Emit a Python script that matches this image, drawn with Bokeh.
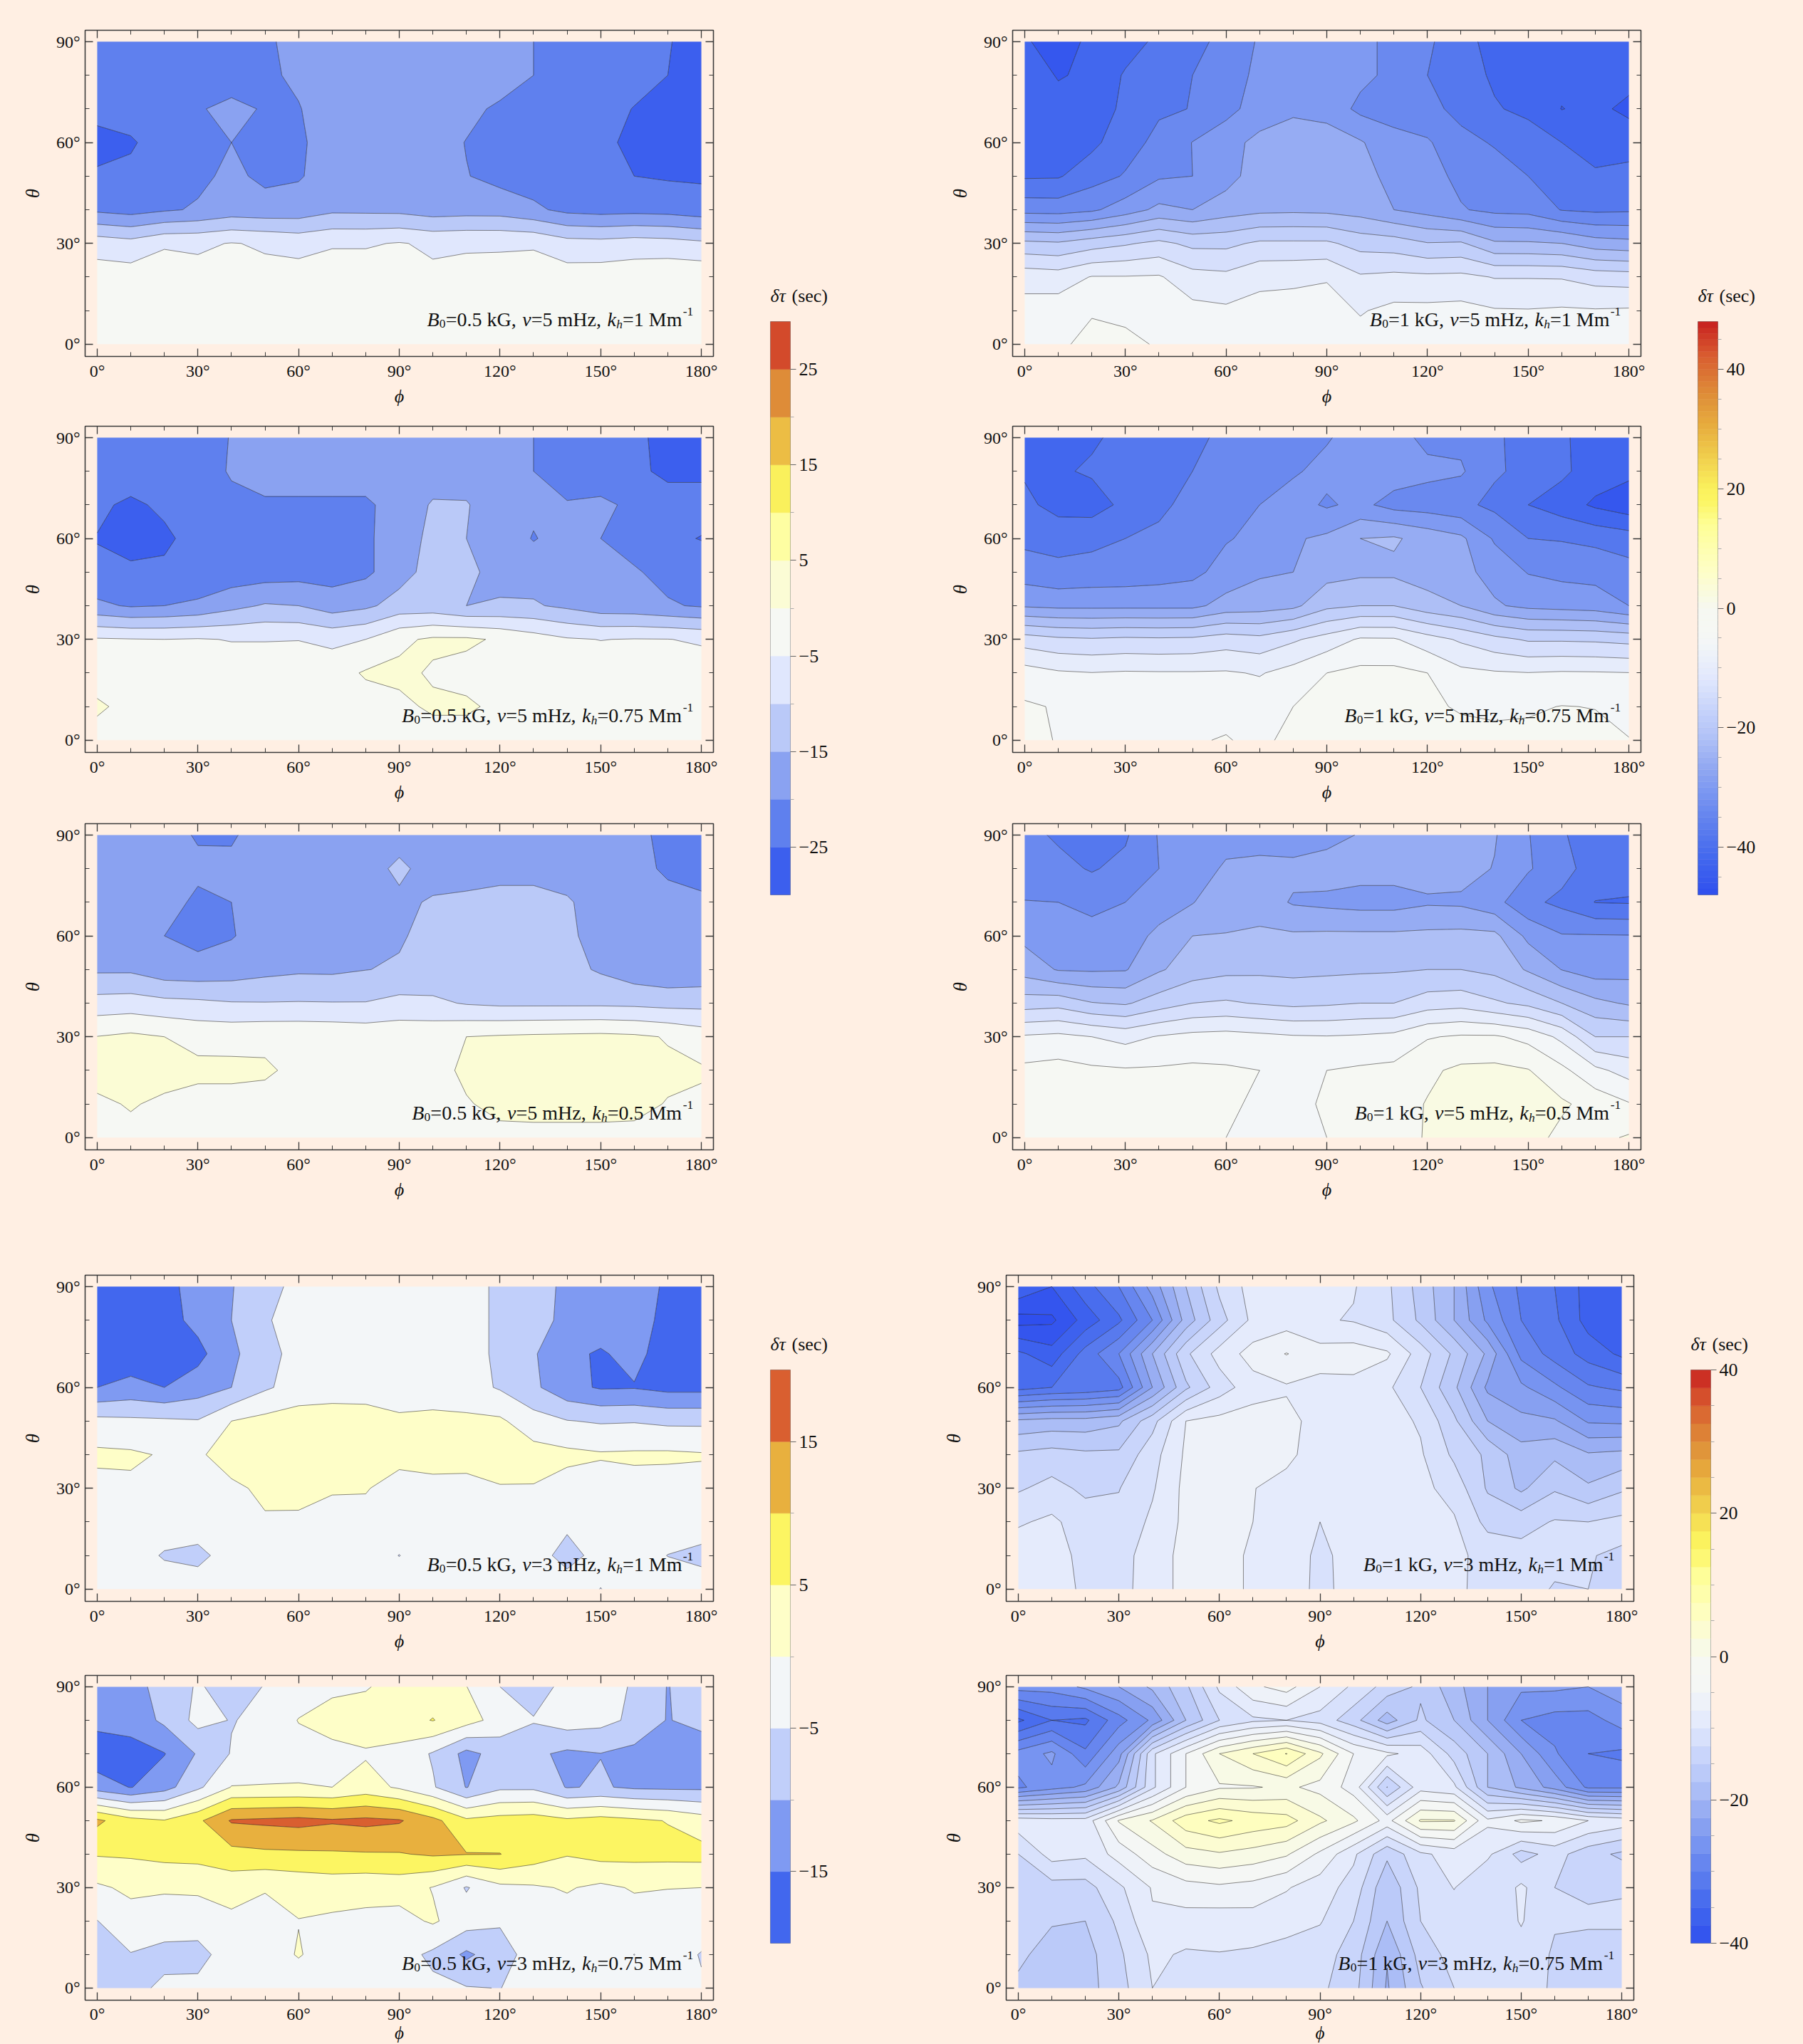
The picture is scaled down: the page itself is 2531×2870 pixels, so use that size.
import numpy as np
from bokeh.embed import file_html
from bokeh.resources import INLINE
from bokeh.plotting import figure
from bokeh.layouts import column, row
from bokeh.models import Spacer, LinearAxis, FixedTicker, Label

PHI = list(range(0, 181, 10))
THETA = list(range(0, 91, 10))
X_TICKS = [0, 30, 60, 90, 120, 150, 180]
Y_TICKS = [0, 30, 60, 90]

# rows run from theta=90 down to theta=0, 19 values for phi=0..180
A1 = [
 [-23,-23,-23,-23,-23,-21,-18,-17,-17,-17,-17,-17,-17,-20,-22,-23,-24,-24.7,-27],
 [-23,-23,-23,-23,-23,-21,-19,-18,-17,-17,-17,-17,-17,-20,-22,-23,-24,-25,-26],
 [-23,-23,-23,-20.5,-18.5,-20.5,-20.3,-17,-17,-17,-17,-18.5,-21,-22,-23,-24,-25.1,-26.5,-26.5],
 [-27,-25.5,-23,-22,-20,-21.5,-20.7,-18,-16.5,-16.5,-17.5,-20.2,-22,-23,-23.5,-24.5,-25.5,-26.5,-26.5],
 [-24.2,-24,-23.5,-21,-19,-21,-20.4,-18,-17,-17,-18,-19.8,-21.5,-22.5,-23,-24,-25,-25.5,-25.6],
 [-21,-22,-20.6,-19.5,-17.8,-18.2,-18,-16,-16.1,-16.3,-17.5,-17.1,-17.2,-19,-21.3,-21.9,-21.6,-21.9,-23],
 [-7.1,-8.2,-5.8,-5.8,-4.8,-5.5,-6.5,-5.5,-5.5,-4.7,-5.8,-5.5,-5.5,-5.6,-8,-8.3,-7.6,-8,-9],
 [-2.7,-2.7,-1.3,-3.4,-3,-3.9,-3.2,-2.4,-2.4,-3,-4.1,-3.8,-3.6,-2.6,-2.8,-2.5,-2.1,-1.3,-1.3],
 [-2,-2,-2,-2,-2,-2,-2,-2,-2,-2,-2,-2,-2,-2,-2,-2,-2,-2,-2],
 [-1.5,-1.5,-1.5,-1.5,-1.5,-1.5,-1.5,-1.5,-1.5,-1.5,-1.5,-1.5,-1.5,-1.5,-1.5,-1.5,-1.5,-1.5,-1.5],
]
A2 = [
 [-22,-22,-22,-22,-19.8,-17,-17,-17,-17,-17,-17,-17,-17,-20,-22,-23,-24.3,-26,-26],
 [-22,-22,-22,-22,-19.6,-17,-17,-17,-17,-17,-17,-17,-17,-20,-22,-23,-24.5,-25.5,-26],
 [-24,-26,-24,-22,-21,-21,-21,-21,-21,-17.5,-14.6,-14.7,-17.5,-19,-19.7,-19,-21,-24,-23],
 [-25.2,-27,-26,-23,-22,-22,-22,-22,-21,-17,-14,-15,-17,-20.3,-18,-20,-22,-24,-25.2],
 [-24,-24,-24,-24,-23,-22.5,-22,-22,-21,-17,-13,-14,-16.5,-17,-17,-18,-19.5,-21.5,-22],
 [-19,-20.5,-20,-19,-16.5,-14.5,-15,-17.5,-16,-13,-13,-15,-14.5,-14.5,-16,-18,-18.3,-19.5,-20.5],
 [-4.5,-4.8,-5,-4.7,-5.2,-5.2,-5.1,-6.2,-5,-1,0.8,0.8,-0.6,-2.7,-4.5,-5.1,-4.8,-4.9,-5.6],
 [-2.5,-2.5,-2.5,-2.5,-2.5,-2.5,-2.5,-2,0.5,1,-0.5,-1.5,-2,-2.5,-2.5,-2.5,-2.5,-2.5,-2.5],
 [0.8,-1.5,-2,-2,-2,-2,-2,-2,-2,-1,0.7,0.7,-1,-2,-2,-2,-2,-2,-2],
 [-2,-2,-2,-2,-2,-2,-2,-2,-2,-2,-2,-2,-2,-2,-2,-2,-2,-2,-2],
]
A3 = [
 [-18,-18,-18,-20.5,-20.5,-18,-18,-17,-17,-17,-17,-17,-17,-17,-17,-17,-19,-21,-21.5],
 [-18,-18,-18,-18.9,-19,-18,-18,-17,-17,-14,-17,-17,-17,-17,-17,-17,-18,-21,-22],
 [-18,-18,-18,-21,-20,-18,-17,-17,-17,-16,-14.5,-14,-13,-13,-14.5,-17,-17,-18,-19],
 [-18,-18,-20,-21.5,-20.3,-18,-18,-17,-16.5,-15.5,-13.5,-13,-12.5,-12.5,-14,-17,-17,-17.5,-18],
 [-15.8,-15.8,-18,-18.3,-17.7,-16.5,-15.8,-15.9,-15.1,-14.5,-13.5,-13.5,-13,-13,-13.5,-15.6,-17.9,-19,-18.5],
 [-8,-7.7,-8.6,-9,-9.7,-9.8,-9.7,-9.8,-9.8,-8.5,-9,-10.4,-11,-11,-11,-11,-11.2,-11.7,-11.7],
 [0.1,1,0,-1.3,-1.4,-1,-1,-1.2,-1.7,-1.6,-1.4,0,0.5,0.8,1,1.2,0.8,-0.3,-2.2],
 [1.5,2,1.5,1,1,0.6,-1,-1.5,-1.5,-1.5,-1.5,0.8,1.5,1.5,1.5,1.5,1.5,0.8,0.5],
 [-0.7,0.3,-0.7,-1.5,-1.5,-1.5,-1.5,-1.5,-1.5,-1.5,-1.5,-0.3,1,1.2,1.2,1.2,1,-0.2,-0.8],
 [-1,-1,-1,-1,-1,-1,-1,-1,-1,-1,-1,-1,-1,-1,-1,-1,-1,-1,-1],
]
# columns: phi=0..180, 10 values for theta=0..90
B1_COLS = [
 [-5.5,-6.5,-9.5,-19,-33.5,-40.5,-41,-42,-42.5,-43.5],
 [-4.6,-6,-10,-19.5,-33.7,-40.4,-42,-43,-44.2,-46],
 [-3,-4.3,-7.8,-17.8,-32.7,-37.6,-41,-42.5,-43.5,-43],
 [-3.5,-4.5,-7.8,-16.5,-30,-35.7,-37.5,-39,-39.5,-42],
 [-4.2,-5.5,-7.6,-15,-27,-32.5,-35,-36.5,-38,-39],
 [-5.5,-6.8,-10.5,-17,-28,-32,-31.9,-35.9,-36,-37],
 [-6,-7.3,-11,-17,-26,-29.5,-29.3,-33.4,-34,-35],
 [-6,-6.7,-9,-15.3,-25,-26,-27,-30,-31,-31.5],
 [-6,-6.5,-8.8,-15.3,-24.8,-25.5,-26,-28.7,-30,-30],
 [-6,-6.5,-8.3,-15.3,-25,-25.5,-26,-29.5,-30,-30],
 [-6.5,-8.3,-11.5,-17.5,-25.8,-26.5,-27.6,-33,-31,-31],
 [-6.5,-7,-11,-18,-28,-29.3,-30.8,-33.5,-33,-33],
 [-6.5,-7,-11.2,-19.8,-29.5,-30.5,-31.5,-35,-36,-35.2],
 [-6,-6.8,-11,-19.5,-31.7,-33,-35,-37,-38.5,-39],
 [-6.5,-7.7,-12.2,-23.4,-33,-34.5,-36.3,-39.7,-40.5,-41],
 [-6.5,-7.8,-12.2,-23.5,-33.3,-36,-38.3,-40.8,-41.5,-41.5],
 [-6.5,-7.5,-12.3,-24,-36.2,-38,-40,-44.1,-43,-42.5],
 [-6.5,-7.7,-13.6,-26.2,-36.8,-39.5,-41.5,-43,-43,-42.5],
 [-6.5,-7.5,-14,-26.8,-36.6,-38.9,-41.5,-45,-42.5,-42.5],
]
B2 = [
 [-41.5,-42,-40.5,-39,-38,-37,-35,-34,-33,-32.3,-30.5,-30.5,-33,-33,-35.6,-37,-39.5,-41.5,-42],
 [-40.5,-40.5,-39.5,-38,-37,-36,-34.5,-33.5,-32.4,-31,-30,-30,-31,-31.5,-35.5,-37,-39.2,-42,-43],
 [-39,-41.5,-41.8,-39,-37,-34.5,-33,-32,-30.5,-32.5,-31,-33.5,-34,-35,-37,-40,-42,-44.7,-46.5],
 [-37,-37.3,-37,-36,-35,-33.8,-32.3,-31,-28.5,-27.2,-24,-23.5,-25.5,-27.2,-32.5,-36,-36.3,-37,-38],
 [-34,-35,-34.5,-34.3,-33.8,-33,-30.5,-28.5,-28,-25.5,-24.8,-24.8,-25.8,-26.8,-29.5,-32.2,-33,-33.3,-34.5],
 [-28.5,-29,-29,-29,-29,-29,-26.5,-26,-25,-21,-20,-20,-22.5,-24,-27.5,-29,-29.5,-30,-32],
 [-14,-15.2,-15.6,-15.2,-15.4,-15.2,-14,-14.8,-12.6,-10.3,-7.5,-7.6,-10.3,-12.6,-14.8,-16.5,-16.5,-16.7,-17.3],
 [-6.2,-7.5,-7.9,-7.6,-7.7,-7.7,-7.6,-8.3,-6.5,-4,-3,-3,-4,-7,-7.6,-7.9,-7.6,-7.7,-7.9],
 [-3.5,-4.3,-5.5,-5.5,-5.5,-5.5,-5.5,-5.5,-4,-3,-2.5,-2.5,-3.5,-4.3,-4.6,-4.5,-3.9,-4.1,-5],
 [-2.5,-4.3,-5,-5,-5,-4.4,-3.7,-5.2,-2.5,-1.5,-1,-1,-1.5,-3,-3.2,-3,-2.5,-3,-3.9],
]
B3_COLS = [
 [-1,-1.5,-3,-7.5,-18,-25.8,-29,-31.9,-33.5,-35],
 [-1,-1.5,-2.5,-7,-17.5,-28.3,-30,-32,-35,-36.5],
 [-1.5,-2,-3.3,-8,-19.8,-28.5,-30,-33.5,-36.3,-38],
 [-2,-2.5,-3.6,-9.3,-20.5,-28.3,-30,-32,-35,-36.5],
 [-2.5,-2.5,-3.5,-7.7,-18,-24.5,-27,-30,-32,-31.7],
 [-2.5,-2.5,-3.2,-6.8,-16,-22,-24,-28.2,-30.5,-30],
 [-4,-3,-3.5,-6.5,-15.5,-21,-23.9,-25,-27.3,-29.8],
 [-5.5,-5,-4,-7,-16.3,-20.8,-23.2,-26,-26.7,-30],
 [-5.5,-5,-5.3,-7.6,-17,-21,-23.4,-28.4,-27,-30],
 [-4,-3.5,-4,-7.8,-16.6,-20.8,-23.2,-29,-26,-29.5],
 [-2,-2.5,-3.4,-7.5,-16,-20.6,-23.2,-29.5,-26.5,-27.7],
 [-1,-1.5,-3,-6.9,-16,-20.4,-23.2,-29.5,-26.5,-25.7],
 [0.2,0.2,-0.7,-4.3,-14,-20,-23,-28.5,-26.5,-25.5],
 [1.5,1.5,0.8,-3.5,-13.5,-20,-22.8,-28.7,-26.5,-26],
 [1.5,1.8,1,-3.5,-15.4,-21,-23,-30.7,-28.2,-27.7],
 [1.5,1.5,0.2,-5.2,-17,-24.5,-29,-35,-31.6,-31.8],
 [-1,0.6,-3,-9,-20,-28.1,-31.7,-37,-34.5,-35.5],
 [-1,-1.5,-7,-16,-23,-30,-31.7,-40.1,-38,-38.5],
 [0.4,-3.7,-9.6,-16,-24.5,-29.5,-31.8,-40.3,-38.5,-38.5],
]
C1 = [
 [-18,-18,-17,-12.5,-10.2,-7.5,-3,-2,-1.5,-1.5,-2,-3,-6,-8,-11,-12.5,-13.5,-15.5,-17],
 [-18,-18,-17,-13.5,-10,-5.5,-3,-2,-1.5,-1.5,-2,-3,-6,-8.5,-11,-12.5,-13.5,-16,-18],
 [-18,-18,-17,-16.5,-11,-7,-3,-2,-1.5,-1.5,-2,-4,-5.5,-9.5,-14,-15.5,-13.5,-17.5,-18],
 [-15,-13.5,-15,-12.5,-10,-5.7,-3,-2,-1.5,-1.5,-2,-3,-5.5,-9,-13.5,-15.5,-15.3,-16.5,-16.5],
 [-3.6,-4,-4.2,-4.7,0,1.5,2.5,2.2,1.5,0.5,1,1,0.8,-3,-4.8,-5.5,-5.3,-6,-6],
 [1,0.7,-0.4,-0.8,2.5,3.5,3.5,3.5,3.5,2,2.5,2.5,3,2,1.2,0.5,0.7,0.8,0.4],
 [-1.5,-0.8,-1.3,-1.5,-1,1,1.5,0.5,0.4,-2.5,-1.8,-2,-0.4,-0.3,-2,-2.5,-1.5,-2,-1.6],
 [-2,-2,-2,-2,-2,-0.5,-0.8,-2,-2,-2,-2,-2,-2,-2,-3.8,-2,-2,-2,-2],
 [-2,-2.5,-5.5,-6.5,-2.5,-2,-2,-2,-2.5,-5.1,-2,-2,-2,-2.5,-7,-3,-2.5,-5.1,-6.5],
 [-2,-2,-2,-2,-2,-2,-2,-2,-2,-2,-2,-2,-2,-2,-2,-5.1,-2,-2,-2],
]
C2 = [
 [-13,-12,-8,-4.5,-7,-4.8,-3,-1,-0.4,2,2.5,0.1,-5,-8,-3,-3,-5.5,-10.2,-7],
 [-13.5,-13,-9,-3.5,-5.2,-4,0.2,2,2.5,3,5.2,2,-2,-4.6,-2.5,-3.5,-6,-10.3,-8],
 [-18,-17,-15.2,-9.5,-4.7,-3,-2,-1.5,-0.5,-1.5,-5.5,-11.5,-8,-9,-11,-10.1,-11.5,-13,-14],
 [-12.6,-15.2,-12,-6,0.2,0.3,0.3,0,2,-0.7,-4.5,-10.2,-6,-6,-10.3,-9.5,-10.8,-11,-11],
 [11,6.8,5.3,9,15.5,16,16.5,15.6,16.2,15.5,11.5,6,7,7.5,6,7,6,4.8,2.5],
 [5.4,5.6,6.5,6.8,8.3,9,9.2,9.4,9.6,9.7,10.6,10.2,10.1,7.5,5.3,6.7,6.5,6.5,6.6],
 [-0.8,1,0.6,0.7,1.8,0.3,1.3,2,1.5,2,-0.2,-5.4,-1.2,-0.6,0.4,-1,0.4,0.1,0],
 [-5.1,-2,-2.5,-2.2,-1,-1.5,-0.1,-0.7,-1,-1.7,0.6,-2.6,-4.5,-2,-2,-1,-2,-2,-2],
 [-6,-5.2,-6.5,-7,-2,-2,0.3,-2,-2.5,-3,-6,-11,-7,-3,-2.5,-2.5,-5.05,-2.5,-5.3],
 [-7,-6.5,-4,-3.5,-3,-3,-2.5,-2.5,-3,-3,-4,-4.7,-5.1,-3,-2.5,-2.5,-3,-4.9,-4.5],
]
D1 = [
 [-33,-35,-31,-27.5,-21.5,-15,-9.5,-6.5,-6,-6,-7.3,-9.5,-13.5,-17.5,-24.5,-28,-30,-33.5,-34],
 [-38.5,-38,-34,-30.5,-25,-16.5,-11,-6.9,-6.2,-7.2,-7.7,-9.3,-13,-17.5,-23,-27.5,-29.5,-33.5,-35],
 [-32,-34,-29,-25,-17.5,-10.5,-6.5,-4,-2.4,-4,-3.7,-4.6,-8.7,-13,-18,-25.7,-28.5,-31,-33],
 [-31,-30,-29.5,-28.5,-20,-13,-8.8,-6,-5.3,-5.7,-5.8,-7,-10,-14.5,-20.5,-22,-24.5,-27.2,-28],
 [-17,-16.5,-16.5,-15.5,-10.9,-5,-4.2,-4,-4.2,-6,-6.2,-6.5,-7.8,-12,-17.5,-19.3,-19.7,-22.8,-23],
 [-12,-11.5,-12,-12,-8.5,-4.6,-4,-4,-4.3,-6.5,-6.5,-6.6,-7.2,-10.5,-13,-16.4,-15.5,-17.2,-16.8],
 [-10.3,-9.2,-10.5,-10.1,-7.8,-4.3,-4.2,-4.9,-6,-7,-6.6,-6.5,-6.8,-8.5,-12.8,-15.5,-12.8,-14.6,-12.9],
 [-7.8,-7,-8.8,-9.3,-7,-4.4,-4.4,-5,-6,-7.5,-6.3,-6.3,-6.5,-7.2,-10.8,-11,-9.8,-10,-9.3],
 [-6,-5.8,-8.7,-8.9,-5.8,-4.5,-4.5,-5.2,-6,-8.1,-6.5,-6.5,-6.5,-7,-8.2,-9,-9.3,-9.9,-10.3],
 [-5,-5,-8.5,-8.7,-5.8,-4.5,-4.5,-5.2,-6,-8.2,-6.5,-6.5,-6.5,-7,-8.3,-9,-10.2,-10,-11],
]
D2 = [
 [-24,-24,-22,-20,-17,-13,-7,-3,-1.5,-5,-8,-11,-13,-16.5,-20,-22,-22,-22.5,-21],
 [-33,-30,-30.5,-26,-22,-15,-10,-8,-7.5,-8.5,-11.5,-16.3,-12,-15,-20,-25,-26,-26,-24],
 [-24,-22,-27,-21,-8,-2.5,2.5,5,7.6,3,-2.5,-4.5,-6,-11,-15,-20,-24.7,-27.5,-28],
 [-25.5,-23.5,-22,-17,-8,-2.5,-0.3,-0.2,0.5,-0.8,-3.5,-12.6,-6,-7,-15,-18,-21,-25.5,-25.5],
 [-6,-6.5,-6.5,0.2,2.7,6.5,8,6.7,6,3,0.5,-3.4,2.8,2.7,-4.5,-2,-2.8,-5,-6],
 [-10,-6.5,-7,-4,-1,1.5,2.2,1.5,0.3,-3,-7,-12,-8,-6.5,-7,-11,-9,-11.5,-13],
 [-12.3,-11,-11,-8,-4.8,-3.5,-3,-3.5,-4.8,-6.3,-8.5,-14.5,-9.5,-7.4,-10,-7,-10,-10.2,-10.1],
 [-10,-12.3,-12.5,-9.5,-5.3,-6,-6.3,-6,-6.5,-7.3,-10,-15,-10,-9,-9.5,-7.3,-9.8,-9.8,-9.8],
 [-12,-13.5,-13.5,-10.5,-7,-7.8,-7.6,-7.9,-8.5,-9,-11,-17.3,-11.5,-9,-9,-8.5,-10.3,-10.6,-10.6],
 [-13,-13.5,-13.5,-11,-7.5,-9,-9,-9,-9,-9.5,-11.5,-17.8,-12.7,-10,-9,-9,-10.3,-10.5,-10.5],
]

PANEL_TEXT = {
 "A1": ("0.5", "5", "1"), "A2": ("0.5", "5", "0.75"), "A3": ("0.5", "5", "0.5"),
 "B1": ("1", "5", "1"), "B2": ("1", "5", "0.75"), "B3": ("1", "5", "0.5"),
 "C1": ("0.5", "3", "1"), "C2": ("0.5", "3", "0.75"),
 "D1": ("1", "3", "1"), "D2": ("1", "3", "0.75"),
}

# ---------- style ----------
BG = "#FFEFE3"
SERIF = "Liberation Serif"
INK = "#3a3a3a"
X0, Y0 = -3.6, -3.64
POS_T = [0, .125, .29, .375, .42, .625, .75, .875, 1]
POS_C = [(246,248,240),(254,254,200),(254,254,150),(252,245,98),(250,240,92),(232,176,62),(222,140,56),(217,95,48),(200,32,32)]
NEG_T = [0, .08, .125, .25, .375, .42, .58, .625, .75, .875, 1]
NEG_C = [(246,248,242),(246,248,244),(243,246,248),(224,231,253),(193,207,250),(185,200,248),(139,163,241),(127,154,242),(95,128,238),(66,103,238),(47,79,238)]

def ramp(t):
    T, C = (POS_T, POS_C) if t >= 0 else (NEG_T, NEG_C)
    c = [np.interp(abs(t), T, [p[i] for p in C]) for i in range(3)]
    return "#%02x%02x%02x" % tuple(int(round(v)) for v in c)

def band_colors(levels, vmax, neg_shift=0.0):
    out = []
    for a, b in zip(levels[:-1], levels[1:]):
        mid = 0.5 * (a + b)
        out.append(ramp((mid - neg_shift if mid < 0 else mid) / vmax))
    return out

GROUPS = {
 "A": dict(levels=list(np.arange(-30, 30.1, 5)), vmax=30, neg_shift=0),
 "B": dict(levels=list(np.arange(-48, 48.1, 4)), vmax=48, neg_shift=0),
 "C": dict(levels=list(np.arange(-20, 20.1, 5)), vmax=20, neg_shift=0),
 "D": dict(levels=list(np.arange(-40, 40.1, 2.5)), vmax=40, neg_shift=2.5),
}

WIDTHS = {"=": .564, ".": .25, " ": .25, ",": .25, "k": .5, "G": .722, "m": .778, "H": .722, "z": .444, "M": .889}
def em(s):
    return sum(WIDTHS.get(ch, .5) for ch in s)

def add_annotation(p, b, nu, k, right_px, base_px, size=28, stretch=1.015):
    pieces = [
        ("B", "italic", 1, 0, .611), ("0", "normal", .62, -6, .31),
        ("=%s kG, " % b, "normal", 1, 0, None), ("ν", "italic", 1, 0, .44),
        ("=%s mHz, " % nu, "normal", 1, 0, None), ("k", "italic", 1, 0, .444),
        ("h", "italic", .62, -6, .31), ("=%s Mm" % k, "normal", 1, 0, None),
        ("-1", "normal", .62, 11, .52),
    ]
    w = [(pw if pw is not None else em(s)) * size * stretch for s, _, _, _, pw in pieces]
    x = right_px - sum(w)
    for (s, style, scale, dy, _), wi in zip(pieces, w):
        p.add_layout(Label(x=X0, y=Y0, x_offset=x, y_offset=base_px + dy, text=s,
                           text_font=SERIF, text_font_style=style,
                           text_font_size="%.1fpx" % (size * scale), text_color="#111111",
                           text_baseline="alphabetic", text_align="left"))
        x += wi

def style_axis(ax):
    ax.axis_line_color = INK
    ax.axis_line_width = 1.4
    ax.major_tick_line_color = INK
    ax.minor_tick_line_color = INK
    ax.major_tick_line_width = 1.3
    ax.minor_tick_line_width = 1
    ax.major_tick_in = 11
    ax.major_tick_out = 0
    ax.minor_tick_in = 6
    ax.minor_tick_out = 0
    ax.major_label_text_font = SERIF
    ax.major_label_text_font_size = "24px"
    ax.major_label_text_color = "#111111"

def panel(name, z, group, left, right, top, bottom, tight_bottom=False):
    g = GROUPS[group]
    p = figure(width=left + 882 + right, height=top + 458 + bottom,
               x_range=(X0, 183.6), y_range=(Y0, 93.39),
               min_border_left=left, min_border_right=right, min_border_top=top, min_border_bottom=bottom,
               toolbar_location=None, output_backend="svg", background_fill_color=BG, border_fill_color=BG,
               outline_line_color=INK, outline_line_width=1.2)
    p.grid.visible = False
    p.contour(PHI, THETA, z, levels=g["levels"], fill_color=band_colors(g["levels"], g["vmax"], g["neg_shift"]),
              line_color="#000000", line_alpha=0.45, line_width=1)
    xt = FixedTicker(ticks=X_TICKS, minor_ticks=PHI)
    yt = FixedTicker(ticks=Y_TICKS, minor_ticks=THETA)
    for ax in p.xaxis:
        ax.ticker = xt
        ax.major_label_overrides = {v: "%d°" % v for v in X_TICKS}
        style_axis(ax)
        ax.major_label_standoff = 6 if tight_bottom else 7
        ax.axis_label = "ϕ"
        ax.axis_label_standoff = -3 if tight_bottom else 5
        ax.axis_label_text_font = SERIF
        ax.axis_label_text_font_size = "25px" if tight_bottom else "26px"
        ax.axis_label_text_font_style = "italic"
        ax.axis_label_text_color = "#111111"
    for ax in p.yaxis:
        ax.ticker = yt
        ax.major_label_overrides = {v: "%d°" % v for v in Y_TICKS}
        style_axis(ax)
        ax.major_label_standoff = 7
        ax.axis_label = "θ"
        ax.axis_label_standoff = 15
        ax.axis_label_text_font = SERIF
        ax.axis_label_text_font_size = "27px"
        ax.axis_label_text_font_style = "italic"
        ax.axis_label_text_color = "#111111"
    top_ax = LinearAxis(ticker=xt, major_label_overrides={v: "" for v in X_TICKS})
    right_ax = LinearAxis(ticker=yt, major_label_overrides={v: "" for v in Y_TICKS})
    for ax in (top_ax, right_ax):
        style_axis(ax)
        ax.major_label_standoff = 0
        ax.major_label_text_font_size = "1px"
    p.add_layout(top_ax, "above")
    p.add_layout(right_ax, "right")
    b, nu, k = PANEL_TEXT[name]
    add_annotation(p, b, nu, k, right_px=854, base_px=52)
    return p

def colorbar(group, ticks, minor, left, right, step):
    g = GROUPS[group]
    vmax = g["vmax"]
    levels = list(np.arange(-vmax, vmax + 1e-6, step))
    p = figure(width=left + 28 + right, height=20 + 805 + 20,
               x_range=(0, 1), y_range=(-vmax, vmax),
               min_border_left=left, min_border_right=right, min_border_top=20, min_border_bottom=20,
               toolbar_location=None, output_backend="svg", background_fill_color=BG, border_fill_color=BG,
               outline_line_color="#888888", outline_line_width=1, x_axis_location=None, y_axis_location=None)
    p.grid.visible = False
    cols = band_colors(levels, vmax)
    p.quad(left=0, right=1, bottom=levels[:-1], top=levels[1:], fill_color=cols, line_color=cols, line_width=0.5)
    ax = LinearAxis(ticker=FixedTicker(ticks=ticks, minor_ticks=minor),
                    major_label_overrides={v: ("−%d" % -v if v < 0 else "%d" % v) for v in ticks})
    ax.axis_line_color = None
    ax.major_tick_line_color = "#666666"
    ax.minor_tick_line_color = "#aaaaaa"
    ax.major_tick_in = 0
    ax.major_tick_out = 8
    ax.minor_tick_in = 0
    ax.minor_tick_out = 5
    ax.major_label_standoff = 4
    ax.major_label_text_font = SERIF
    ax.major_label_text_font_size = "26px"
    ax.major_label_text_color = "#111111"
    p.add_layout(ax, "right")
    return p

def bar_title(left, total_width):
    p = figure(width=total_width, height=40, x_range=(0, total_width), y_range=(0, 40),
               min_border_left=0, min_border_right=0, min_border_top=0, min_border_bottom=0,
               toolbar_location=None, output_backend="svg", background_fill_color=BG, border_fill_color=BG,
               outline_line_color=None, x_axis_location=None, y_axis_location=None)
    p.grid.visible = False
    p.add_layout(Label(x=left, y=16, text="δτ", text_font=SERIF, text_font_style="italic",
                       text_font_size="26px", text_color="#111111", text_baseline="middle"))
    p.add_layout(Label(x=left + 30, y=16, text="(sec)", text_font=SERIF,
                       text_font_size="26px", text_color="#111111", text_baseline="middle"))
    return p

def grid(rows):
    return np.array(rows, dtype=float)[::-1]

def solo(child):
    # wrapping keeps a child's frame from being aligned with its neighbours
    return column(child)

col0 = column(
    Spacer(width=1, height=24),
    panel("A1", grid(A1), "A", 111, 49, 10, 88),
    panel("A2", grid(A2), "A", 111, 49, 10, 90),
    panel("A3", grid(A3), "A", 111, 49, 10, 166),
    panel("C1", grid(C1), "C", 111, 49, 10, 94),
    panel("C2", grid(C2), "C", 111, 49, 10, 60, tight_bottom=True),
)
col1 = column(
    Spacer(width=1, height=383),
    solo(bar_title(31, 270)),
    solo(colorbar("A", [-25, -15, -5, 5, 15, 25], [-20, -10, 0, 10, 20], 31, 211, 5)),
    Spacer(width=1, height=587),
    solo(bar_title(31, 270)),
    solo(colorbar("C", [-15, -5, 5, 15], [-10, 0, 10], 31, 211, 5)),
)
col2 = column(
    Spacer(width=1, height=24),
    solo(column(
        panel("B1", np.array(B1_COLS, dtype=float).T, "B", 101, 67, 10, 88),
        panel("B2", grid(B2), "B", 101, 67, 10, 90),
        panel("B3", np.array(B3_COLS, dtype=float).T, "B", 101, 67, 10, 166),
    )),
    solo(column(
        panel("D1", grid(D1), "D", 91, 77, 10, 94),
        panel("D2", grid(D2), "D", 91, 77, 10, 60, tight_bottom=True),
    )),
)
col3 = column(
    Spacer(width=1, height=383),
    solo(bar_title(13, 153)),
    solo(colorbar("B", [-40, -20, 0, 20, 40], [-45, -35, -30, -25, -15, -10, -5, 5, 10, 15, 25, 30, 35, 45], 13, 112, 1)),
    Spacer(width=1, height=587),
    solo(bar_title(3, 153)),
    solo(colorbar("D", [-40, -20, 0, 20, 40], [-35, -30, -25, -15, -10, -5, 5, 10, 15, 25, 30, 35], 3, 122, 2.5)),
)
page = row(col0, col1, col2, col3)

html = file_html(page, INLINE, title="delta tau contours")
html = html.replace("</head>", "<style>html,body{background:%s;} body{margin:8px 8px 0 8px;}</style></head>" % BG, 1)
open("out.html", "w").write(html)
